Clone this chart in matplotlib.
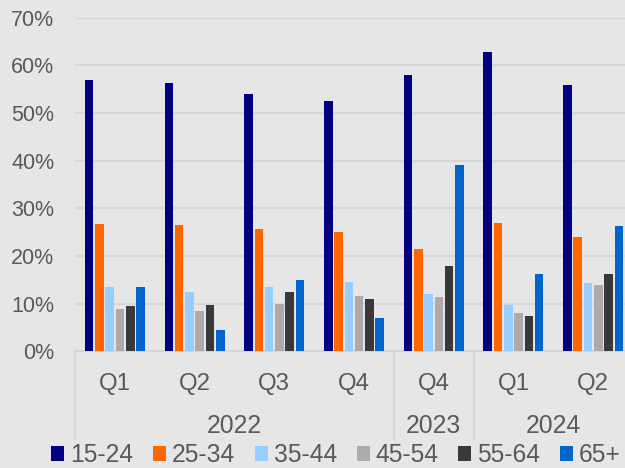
import numpy as np
import matplotlib
matplotlib.use("Agg")
import matplotlib.pyplot as plt
from matplotlib.transforms import blended_transform_factory

# datos
quarters = ['Q1', 'Q2', 'Q3', 'Q4', 'Q4', 'Q1', 'Q2']
years = ['2022', '2023', '2024']
year_span = [(0, 3), (4, 4), (5, 6)]
groups = ['15-24', '25-34', '35-44', '45-54', '55-64', '65+']

v_15_24 = [56.9, 56.3, 53.9, 52.6, 58.0, 62.9, 55.9]
v_25_34 = [26.7, 26.4, 25.7, 25.1, 21.4, 27.0, 24.0]
v_35_44 = [13.4, 12.4, 13.4, 14.6, 12.1, 9.7, 14.4]
v_45_54 = [8.8, 8.4, 10.0, 11.7, 11.4, 8.0, 14.0]
v_55_64 = [9.5, 9.7, 12.4, 11.0, 18.0, 7.4, 16.3]
v_65 = [13.4, 4.4, 15.0, 7.0, 39.0, 16.3, 26.3]

series = [v_15_24, v_25_34, v_35_44, v_45_54, v_55_64, v_65]
colors = ['#000080', '#FF6600', '#99CCFF', '#AEAAAA', '#3A3838', '#0066CC']

plt.rcParams['font.family'] = ['Liberation Sans', 'DejaVu Sans']
txt = '#595959'
bg = '#E6E6E6'
line_c = '#D6D6D6'

fig = plt.figure(figsize=(6.25, 4.68), dpi=100, facecolor=bg)
ax = fig.add_axes([75 / 625, (468 - 351.3) / 468, 558 / 625, 333.6 / 468])
ax.set_facecolor(bg)

x = np.arange(len(quarters))
pitch = 0.129
w = 0.108
for i, vals in enumerate(series):
    ax.bar(x + (i - 2.5) * pitch, vals, width=w, color=colors[i],
           label=groups[i], zorder=3, linewidth=0)

ax.set_xlim(-0.5, len(quarters) - 0.5)
ax.set_ylim(0, 70)
ax.set_yticks(range(0, 71, 10))
ax.set_yticklabels([f'{t}%' for t in range(0, 71, 10)])
ax.tick_params(axis='y', length=0, labelsize=15.5, labelcolor=txt, pad=15)
ax.set_xticks([])
ax.grid(axis='y', color=line_c, linewidth=1.5, zorder=0)
for s in ['left', 'right', 'top']:
    ax.spines[s].set_visible(False)
ax.spines['bottom'].set_color(line_c)
ax.spines['bottom'].set_linewidth(1.5)

# etiquetas de dos niveles
tr = blended_transform_factory(ax.transData, ax.transAxes)
px = 1 / 333.6
for i, q in enumerate(quarters):
    ax.text(i, -33 * px, q, transform=tr, ha='center', va='center',
            fontsize=17.3, color=txt)
for yr, (a, b) in zip(years, year_span):
    ax.text((a + b) / 2, -75 * px, yr, transform=tr, ha='center', va='center',
            fontsize=17.8, color=txt)
for sep in [-0.5, 3.5, 4.5, 6.5]:
    ax.plot([sep, sep], [0, -88 * px], transform=tr, color=line_c,
            linewidth=1.5, clip_on=False)

fig.legend(loc='center', bbox_to_anchor=(336 / 625, (468 - 455) / 468), ncol=6,
           frameon=False, fontsize=17.7, labelcolor=txt, handlelength=0.53,
           handleheight=0.53, handletextpad=0.23, columnspacing=0.81,
           borderaxespad=0, borderpad=0)

fig.savefig('out.png', dpi=100, facecolor=bg)
